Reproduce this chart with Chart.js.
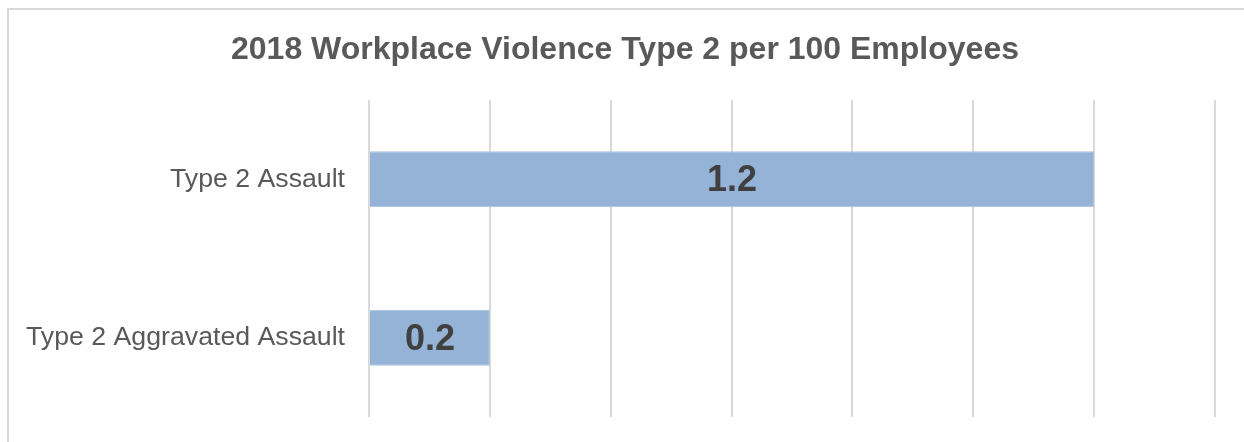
<!DOCTYPE html>
<html>
<head>
<meta charset="utf-8">
<script src="https://cdn.jsdelivr.net/npm/chart.js@4"></script>
<style>
  html, body { margin: 0; padding: 0; background: #fff; }
  #wrap { position: relative; width: 1244px; height: 442px; overflow: hidden; }
  #frame { position: absolute; left: 7px; top: 8px; width: 1300px; height: 500px; border: 2px solid #d9d9d9; box-sizing: border-box; }
  #myChart { position: absolute; left: 0; top: 0; }
</style>
</head>
<body>
<div id="wrap">
  <div id="frame"></div>
  <canvas id="myChart" width="1244" height="442"></canvas>
</div>
<script>
var categories = ["Type 2 Assault", "Type 2 Aggravated Assault"]
var values = [1.2, 0.2]
var valueLabels = ["1.2", "0.2"]
var chartTitle = "2018 Workplace Violence Type 2 per 100 Employees"

// draws the numbers in the middle of each bar
const barLabels = {
    id: 'barLabels',
    afterDatasetsDraw(chart) {
        const ctx = chart.ctx;
        const meta = chart.getDatasetMeta(0);
        ctx.save();
        ctx.font = 'bold 36px "Liberation Sans", Arial, sans-serif';
        ctx.fillStyle = '#404040';
        ctx.textAlign = 'center';
        ctx.textBaseline = 'middle';
        meta.data.forEach((bar, i) => {
            const cx = (bar.x + bar.base) / 2;
            ctx.fillText(valueLabels[i], cx, bar.y + 2);
        });
        ctx.restore();
    }
}

// title is a bit right of the plot centre, so draw it by hand
const topTitle = {
    id: 'topTitle',
    afterDraw(chart) {
        const ctx = chart.ctx;
        ctx.save();
        ctx.font = 'bold 32px "Liberation Sans", Arial, sans-serif';
        ctx.fillStyle = '#595959';
        ctx.textAlign = 'center';
        ctx.textBaseline = 'alphabetic';
        ctx.fillText(chartTitle, 625, 59);
        ctx.restore();
    }
}

const ctx = document.getElementById('myChart');
new Chart(ctx, {
    type: 'bar',
    data: {
        labels: categories,
        datasets: [{
            data: values,
            backgroundColor: '#95b3d7',
            borderColor: '#a9c1df',
            borderWidth: 1,
            barPercentage: 0.353,
            categoryPercentage: 1
        }]
    },
    options: {
        indexAxis: 'y',
        responsive: false,
        animation: false,
        layout: { padding: { left: 0, right: 29, top: 100, bottom: 25 } },
        plugins: {
            legend: { display: false },
            tooltip: { enabled: false },
            title: { display: false }
        },
        scales: {
            x: {
                min: 0,
                max: 1.4,
                ticks: { display: false, stepSize: 0.2 },
                grid: { color: '#d9d9d9', lineWidth: 2, drawTicks: false },
                border: { display: false },
                afterFit(scale) { scale.height = 0; }
            },
            y: {
                ticks: {
                    color: '#595959',
                    padding: 24,
                    font: { family: '"Liberation Sans", Arial, sans-serif', size: 26.7 }
                },
                grid: { display: false, drawTicks: false },
                border: { display: false },
                afterFit(scale) {
                    scale.width = 369;
                    scale.paddingTop = 0;
                    scale.paddingBottom = 0;
                }
            }
        }
    },
    plugins: [barLabels, topTitle]
});
</script>
</body>
</html>
